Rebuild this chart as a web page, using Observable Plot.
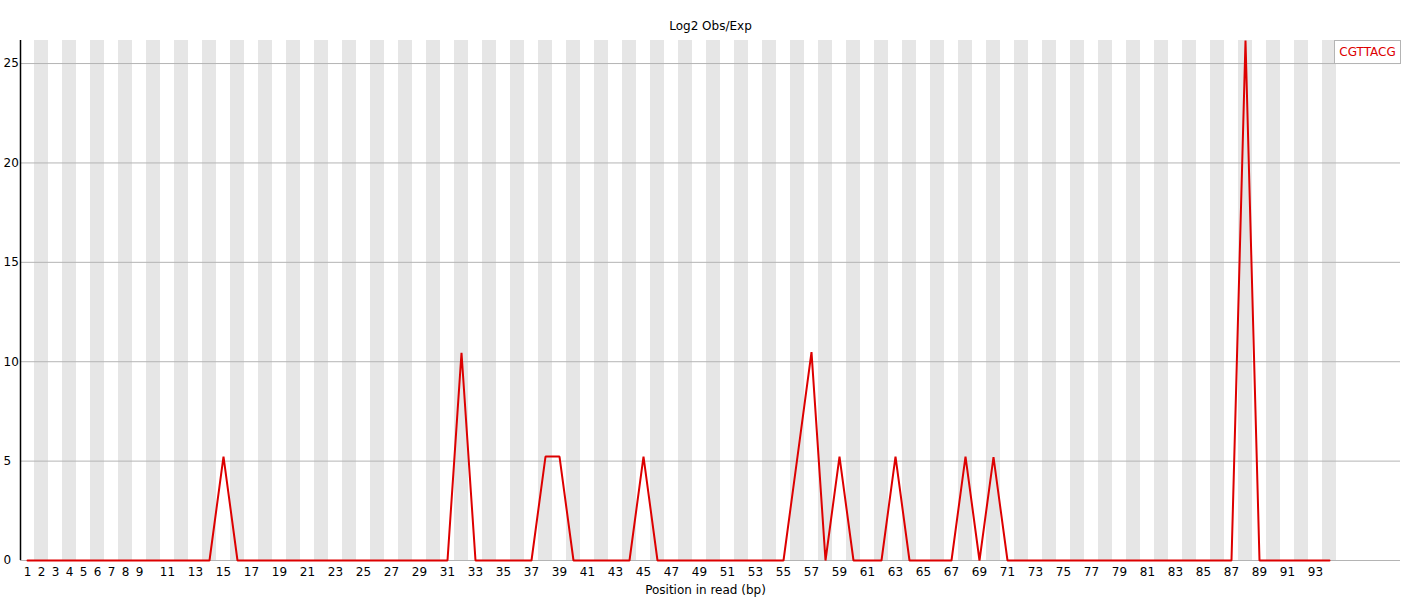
<!DOCTYPE html>
<html><head><meta charset="utf-8">
<script src="https://cdn.jsdelivr.net/npm/d3@7"></script>
<script src="https://cdn.jsdelivr.net/npm/@observablehq/plot@0.6"></script>
<style>
body{margin:0;background:#fff;font-family:"DejaVu Sans",sans-serif}
#wrap{position:relative;width:1410px;height:600px}
#legend{position:absolute;left:1334px;top:40px;width:65px;height:22px;border:1px solid #b4b4b4;background:#fff;color:#dd0000;font:12px "DejaVu Sans";line-height:22px;text-align:center;box-sizing:content-box}
</style></head><body>
<div id="wrap"></div>
<script>
const positions = d3.range(1, 95);
const kmer = "CGTTACG";
const obsExp = [
  0,0,0,0,0,0,0,0,0,0,0,0,0,0,   // 1-14
  5.23,                          // 15
  0,0,0,0,0,0,0,0,0,0,0,0,0,0,0,0, // 16-31
  10.45,                         // 32
  0,0,0,0,0,                     // 33-37
  5.23,5.23,                     // 38-39
  0,0,0,0,0,                     // 40-44
  5.23,                          // 45
  0,0,0,0,0,0,0,0,0,0,           // 46-55
  5.23,10.48,0,5.23,             // 56-59
  0,0,0,                         // 60-62
  5.23,                          // 63
  0,0,0,0,                       // 64-67
  5.23,0,5.2,                    // 68-70
  0,0,0,0,0,0,0,0,0,0,0,0,0,0,0,0,0, // 71-87
  26.16,                         // 88
  0,0,0,0,0,0                    // 89-94
];
const xTickLabels = [1,2,3,4,5,6,7,8,9,11,13,15,17,19,21,23,25,27,29,31,33,35,37,39,41,43,45,47,49,51,53,55,57,59,61,63,65,67,69,71,73,75,77,79,81,83,85,87,89,91,93];
const yTicks = [0,5,10,15,20,25];
const title = "Log2 Obs/Exp";
const xLabel = "Position in read (bp)";

const data = positions.map((p, i) => ({pos: p, value: obsExp[i]}));
const stripes = positions.filter(p => p % 2 === 0);
const yMax = d3.max(obsExp);

const chart = Plot.plot({
  width: 1410, height: 600,
  marginLeft: 20, marginRight: 10, marginTop: 40, marginBottom: 40,
  style: {fontFamily: "DejaVu Sans", fontSize: "12px", background: "#fff", color: "#000"},
  x: {type: "linear", domain: [0.5, 0.5 + 1380 / 14], axis: null},
  y: {domain: [0, yMax], axis: null},
  marks: [
    Plot.rect(stripes, {x1: d => d - 0.5, x2: d => d + 0.5, y1: 0, y2: yMax, fill: "#e6e6e6"}),
    Plot.ruleY(yTicks, {stroke: "#b4b4b4", strokeWidth: 1}),
    Plot.ruleX([0.5], {stroke: "#000", strokeWidth: 1.5}),
    Plot.line(data, {x: "pos", y: "value", stroke: "#dd0000", strokeWidth: 2, strokeLinejoin: "miter", strokeMiterlimit: 1}),
    Plot.text(yTicks, {y: d => d, text: d => String(d), frameAnchor: "left", dx: -17, textAnchor: "start", fill: "#000", fontSize: 12}),
    Plot.text(xTickLabels, {x: d => d, text: d => String(d), frameAnchor: "bottom", dy: 12, lineAnchor: "middle", fill: "#000", fontSize: 12}),
    Plot.text([xLabel], {text: d => d, frameAnchor: "bottom", dy: 30, dx: -5, lineAnchor: "middle", fill: "#000", fontSize: 12}),
    Plot.text([title], {text: d => d, frameAnchor: "top", dy: -14, lineAnchor: "middle", fill: "#000", fontSize: 12})
  ]
});
const wrap = document.getElementById("wrap");
wrap.appendChild(chart);
const legend = document.createElement("div");
legend.id = "legend";
legend.textContent = kmer;
wrap.appendChild(legend);
</script>
</body></html>
